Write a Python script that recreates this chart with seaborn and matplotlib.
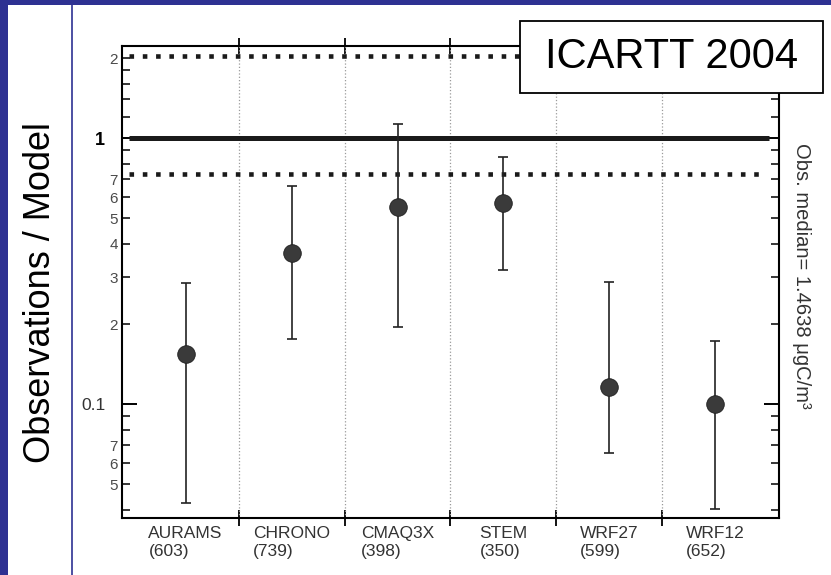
import numpy as np
import pandas as pd
import matplotlib
matplotlib.use("Agg")
import matplotlib.pyplot as plt
from matplotlib.patches import Rectangle
from matplotlib.lines import Line2D
from matplotlib.ticker import FixedLocator, FixedFormatter
import seaborn as sns

# Observations / model ratio per model (median and spread)
models = ["AURAMS", "CHRONO", "CMAQ3X", "STEM", "WRF27", "WRF12"]
counts = [603, 739, 398, 350, 599, 652]
ratio_median = [0.154, 0.37, 0.55, 0.57, 0.116, 0.1005]
ratio_low = [0.0425, 0.175, 0.195, 0.32, 0.0655, 0.0403]
ratio_high = [0.285, 0.66, 1.13, 0.85, 0.288, 0.172]

# Reference lines: 1:1 and the factor band
one_to_one = [1.0]
factor_band = [2.03, 0.73]

# Log-axis ticks
major_ticks = [1.0, 0.1]
major_labels = ["1", "0.1"]
minor_ticks = [2.0, 1.8, 1.6, 1.4, 1.2, 0.9, 0.8, 0.7, 0.6, 0.5, 0.4, 0.3, 0.2,
               0.09, 0.08, 0.07, 0.06, 0.05, 0.04]
minor_labels = ["2", "", "", "", "", "", "", "7", "6", "5", "4", "3", "2",
                "", "", "7", "6", "5", ""]

title_text = "ICARTT 2004"
ylabel_text = "Observations / Model"
obs_median_text = "Obs. median= 1.4638 μgC/m³"

sns.set_theme(style="ticks")
plt.rcParams["font.family"] = ["Liberation Sans", "DejaVu Sans"]

navy = "#2e3192"

df = pd.DataFrame({
    "pos": np.arange(len(models)),
    "model": models,
    "median": ratio_median,
    "low": ratio_low,
    "high": ratio_high,
})

fig = plt.figure(figsize=(8.31, 5.75), dpi=100)
fig.patch.set_facecolor("white")
ax = fig.add_axes([0.1468, 0.0991, 0.7906, 0.8209])
ax.set_facecolor("white")

# slide frame
fig.add_artist(Rectangle((0, 0), 8 / 831, 1, transform=fig.transFigure,
                         facecolor=navy, edgecolor="none", zorder=0))
fig.add_artist(Rectangle((0, 1 - 5 / 575), 1, 5 / 575, transform=fig.transFigure,
                         facecolor=navy, edgecolor="none", zorder=0))
fig.add_artist(Line2D([72 / 831, 72 / 831], [0, 1 - 5 / 575], transform=fig.transFigure,
                      color=navy, lw=1.2, zorder=0))

ax.set_yscale("log")
ax.set_xlim(-0.6, 5.6)
ax.set_ylim(0.0373, 2.22)

# category separators
for b in df["pos"].values[:-1] + 0.5:
    ax.axvline(b, color="#9a9a9a", ls=":", lw=0.9, zorder=1)

# 1:1 and factor lines
ax.hlines(one_to_one, -0.53, 5.51, colors="#1a1a1a", lw=3.6, zorder=2)
ax.hlines(factor_band, -0.53, 5.44, colors="#1a1a1a", lw=3.3,
          linestyles=[(0, (1, 1.9))], zorder=2)

# spread bars
ax.errorbar(df["pos"], df["median"],
            yerr=[df["median"] - df["low"], df["high"] - df["median"]],
            fmt="none", ecolor="#222222", elinewidth=1.2, capsize=3.6,
            capthick=1.2, zorder=3)

# medians
sns.scatterplot(data=df, x="pos", y="median", ax=ax, s=160, color="#3a3a3a",
                edgecolor="#1e1e1e", linewidth=0.6, zorder=5, legend=False)

ax.set_xlabel("")
ax.set_ylabel("")

# x axis: labels at category centres, ticks on the separators
ax.xaxis.set_major_locator(FixedLocator(df["pos"].tolist()))
ax.xaxis.set_major_formatter(FixedFormatter(
    [f"{m}\n({c})" for m, c in zip(models, counts)]))
ax.xaxis.set_minor_locator(FixedLocator((df["pos"].values[:-1] + 0.5).tolist()))
ax.tick_params(axis="x", which="major", length=0, pad=6, labelsize=12.5,
               labelcolor="#333333")
ax.tick_params(axis="x", which="minor", direction="inout", length=11, width=1.3,
               top=True, bottom=True, color="black")
for lab in ax.get_xticklabels():
    lab.set_multialignment("left")
    lab.set_linespacing(1.25)

# y axis
ax.yaxis.set_major_locator(FixedLocator(major_ticks))
ax.yaxis.set_major_formatter(FixedFormatter(major_labels))
ax.yaxis.set_minor_locator(FixedLocator(minor_ticks))
ax.yaxis.set_minor_formatter(FixedFormatter(minor_labels))
ax.tick_params(axis="y", which="major", direction="in", length=11, width=1.4,
               left=True, right=True, pad=12, labelsize=12.5, labelcolor="#333333",
               color="black")
ax.tick_params(axis="y", which="minor", direction="in", length=6, width=1.1,
               left=True, right=True, pad=3, labelsize=11, labelcolor="#4a4a4a",
               color="black")
for lab in ax.get_yticklabels():
    if lab.get_text() == "1":
        lab.set_fontweight("bold")
        lab.set_fontsize(13)
        lab.set_color("black")

for sp in ax.spines.values():
    sp.set_visible(True)
    sp.set_color("black")
    sp.set_linewidth(1.5)

# axis titles
fig.text(41 / 831, 0.491, ylabel_text, rotation=90, ha="center", va="center",
         fontsize=26, color="black")
fig.text(801 / 831, 0.52, obs_median_text, rotation=-90, ha="center", va="center",
         fontsize=14.5, color="#333333")

# campaign box
fig.add_artist(Rectangle((520 / 831, 1 - 93 / 575), 303 / 831, 72 / 575,
                         transform=fig.transFigure, facecolor="white",
                         edgecolor="black", lw=1.3, zorder=10))
fig.text(671.5 / 831, 1 - 57 / 575, title_text, ha="center", va="center",
         fontsize=30, color="black", zorder=11)

fig.savefig("out.png", dpi=100)
